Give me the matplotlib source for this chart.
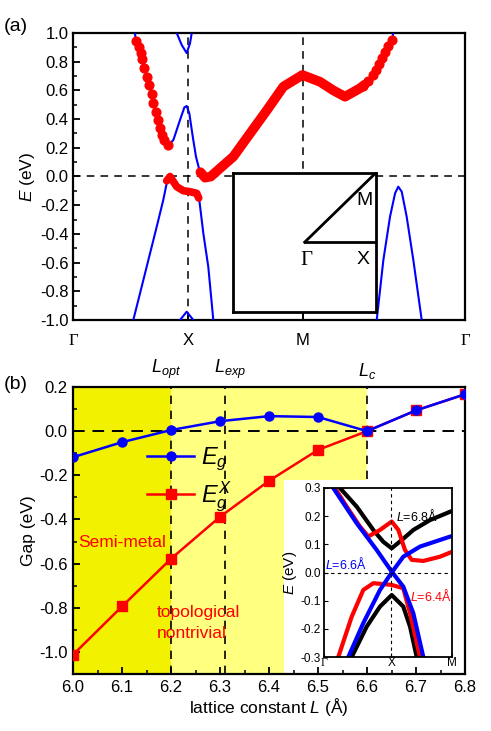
import numpy as np
import matplotlib.pyplot as plt
from matplotlib.patches import Rectangle
from matplotlib.ticker import MultipleLocator, FormatStrFormatter

plt.rcParams['font.family'] = ['Liberation Sans', 'DejaVu Sans']
plt.rcParams['mathtext.fontset'] = 'custom'
plt.rcParams['mathtext.rm'] = 'Liberation Sans'
plt.rcParams['mathtext.it'] = 'Liberation Sans:italic'

# ---------------- panel (a): band structure ----------------
kpath_pos = [0, 1, 2, 2 + np.sqrt(2)]
kpath_lab = ['Γ', 'X', 'M', 'Γ']

# conduction band (blue line)
cb_k = [0.540, 0.546, 0.575, 0.590, 0.599, 0.619, 0.642, 0.662, 0.686, 0.700, 0.721, 0.738,
        0.758, 0.778, 0.793, 0.830, 0.874, 0.932, 0.970, 0.990, 1.013, 1.043, 1.071, 1.097,
        1.121, 1.150, 1.280, 1.396, 1.542, 1.687, 1.832, 1.997, 2.151, 2.267, 2.369, 2.500,
        2.528, 2.572, 2.610, 2.639, 2.665, 2.689, 2.717, 2.746, 2.776, 2.790]
cb_E = [1.000, 0.946, 0.904, 0.863, 0.816, 0.754, 0.696, 0.638, 0.575, 0.514, 0.452, 0.394,
        0.336, 0.289, 0.254, 0.220, 0.254, 0.394, 0.482, 0.491, 0.440, 0.277, 0.138, 0.057,
        0.017, -0.010, 0.057, 0.138, 0.300, 0.460, 0.626, 0.707, 0.660, 0.600, 0.556, 0.615,
        0.631, 0.665, 0.707, 0.742, 0.782, 0.824, 0.870, 0.909, 0.951, 1.000]

# red projected dots (descent from Gamma side and rise toward Gamma)
dots_k = [0.546, 0.575, 0.590, 0.599, 0.619, 0.642, 0.662, 0.686, 0.700, 0.721, 0.738,
          0.758, 0.778, 0.793, 0.830, 2.528, 2.572, 2.610, 2.639, 2.665, 2.689, 2.717,
          2.746, 2.776]
dots_E = [0.946, 0.904, 0.863, 0.816, 0.754, 0.696, 0.638, 0.575, 0.514, 0.452, 0.394,
          0.336, 0.289, 0.254, 0.220, 0.631, 0.665, 0.707, 0.742, 0.782, 0.824, 0.870,
          0.909, 0.951]

# thick red projected band X -> M
thick_k = [1.110, 1.150, 1.200, 1.280, 1.396, 1.542, 1.687, 1.832, 1.997, 2.151, 2.267,
           2.369, 2.500, 2.540]
thick_E = [0.030, -0.008, 0.000, 0.057, 0.138, 0.300, 0.460, 0.626, 0.707, 0.660, 0.600,
           0.556, 0.615, 0.640]

# valence band around X (blue) and its red piece
vb1_k = [0.525, 0.598, 0.671, 0.729, 0.786, 0.816, 0.845, 0.903, 0.961, 1.019, 1.077,
         1.100, 1.135, 1.178, 1.222]
vb1_E = [-1.000, -0.768, -0.535, -0.350, -0.164, -0.047, 0.000, -0.071, -0.099, -0.106,
         -0.117, -0.164, -0.396, -0.628, -1.000]
vred_k = [0.816, 0.845, 0.903, 0.961, 1.019, 1.077, 1.095]
vred_E = [-0.030, 0.000, -0.071, -0.099, -0.106, -0.117, -0.150]

# small bands at X
top_k = [0.903, 0.947, 0.990, 1.019, 1.034]
top_E = [1.000, 0.916, 0.860, 0.928, 1.000]
bot_k = [0.932, 0.990, 1.048]
bot_E = [-1.000, -0.942, -1.000]

# valence band near Gamma (right)
vb2_k = [2.645, 2.703, 2.761, 2.805, 2.833, 2.863, 2.906, 2.964, 3.037]
vb2_E = [-1.000, -0.582, -0.280, -0.117, -0.071, -0.106, -0.280, -0.582, -1.000]

# ---------------- panel (b): gaps vs lattice constant ----------------
L = [6.0, 6.1, 6.2, 6.3, 6.4, 6.5, 6.6, 6.7, 6.8]
Eg = [-0.118, -0.050, 0.005, 0.045, 0.068, 0.064, 0.000, 0.094, 0.167]
EgX = [-1.013, -0.794, -0.578, -0.388, -0.225, -0.085, 0.000, 0.094, 0.167]
L_opt, L_exp, L_c = 6.2, 6.31, 6.6

# inset of (b): bands near X for three L
ins_xlab = ['Γ', 'X', 'M']
ins_xpos = [0, 1, 1.9]
b68c_k = [0.237, 0.485, 0.732, 0.880, 1.005, 1.177, 1.326, 1.573, 1.905]
b68c_E = [0.300, 0.234, 0.151, 0.109, 0.086, 0.120, 0.151, 0.186, 0.219]
b68v_k = [0.411, 0.634, 0.831, 1.005, 1.177, 1.277, 1.376]
b68v_E = [-0.300, -0.192, -0.121, -0.080, -0.121, -0.192, -0.300]
b66a_k = [0.138, 0.485, 0.782, 1.005, 1.177, 1.326, 1.474]
b66a_E = [0.300, 0.175, 0.080, 0.003, -0.050, -0.145, -0.300]
b66b_k = [0.361, 0.583, 0.831, 1.005, 1.177, 1.425, 1.905]
b66b_E = [-0.300, -0.180, -0.062, 0.000, 0.056, 0.092, 0.130]
b64c_k = [0.163, 0.337, 0.534, 0.658, 0.831, 1.005, 1.104, 1.202, 1.301, 1.474, 1.721, 1.905]
b64c_E = [0.300, 0.234, 0.163, 0.128, 0.151, 0.181, 0.151, 0.080, 0.045, 0.041, 0.056, 0.074]
b64v_k = [0.212, 0.411, 0.583, 0.732, 1.005, 1.177, 1.277, 1.425]
b64v_E = [-0.300, -0.157, -0.062, -0.038, -0.044, -0.056, -0.145, -0.300]

BLUE = '#0000ff'
RED = '#ff0000'

fig = plt.figure(figsize=(4.91, 7.31), dpi=100)

# ================= (a) =================
axa = fig.add_axes([0.1487, 0.5622, 0.7984, 0.3927])
axa.plot(cb_k, cb_E, color=BLUE, lw=1.5, zorder=3)
axa.plot(vb1_k, vb1_E, color=BLUE, lw=1.5, zorder=3)
axa.plot(top_k, top_E, color=BLUE, lw=1.5, zorder=3)
axa.plot(bot_k, bot_E, color=BLUE, lw=1.5, zorder=3)
axa.plot(vb2_k, vb2_E, color=BLUE, lw=1.5, zorder=3)
axa.plot(thick_k, thick_E, color=RED, lw=7, solid_capstyle='round', zorder=4)
axa.plot(vred_k, vred_E, color=RED, lw=5.5, solid_capstyle='round', zorder=4)
axa.plot(dots_k, dots_E, 'o', color=RED, ms=6.3, zorder=4)
for x in kpath_pos[1:3]:
    axa.axvline(x, color='k', ls='--', lw=1.1, dashes=(5, 4), zorder=2)
axa.axhline(0, color='k', ls='--', lw=1.1, dashes=(5, 4), zorder=2)
axa.set_xlim(kpath_pos[0], kpath_pos[-1])
axa.set_ylim(-1, 1)
axa.set_xticks(kpath_pos)
axa.set_xticklabels(kpath_lab, fontsize=14)
for t in axa.get_xticklabels():
    if t.get_text() == 'Γ':
        t.set_fontfamily('Liberation Serif')
axa.yaxis.set_major_locator(MultipleLocator(0.2))
axa.yaxis.set_minor_locator(MultipleLocator(0.1))
axa.yaxis.set_major_formatter(FormatStrFormatter('%.1f'))
axa.tick_params(direction='in', width=1.3, length=5, labelsize=12, pad=3)
axa.tick_params(which='minor', direction='in', width=1.1, length=3)
axa.tick_params(axis='x', pad=9)
axa.set_ylabel('$E$ (eV)', fontsize=12.5, labelpad=2)
for s in axa.spines.values():
    s.set_linewidth(1.6)
fig.text(0.008, 0.958, '(a)', fontsize=14)

# Brillouin zone inset
bz = fig.add_axes([233.3 / 491, 1 - 311.7 / 731, 142.7 / 491, 139 / 731])
bz.set_xlim(-1, 1)
bz.set_ylim(-1, 1)
bz.plot([0, 1], [0, 1], color='k', lw=2)
bz.plot([0, 1], [0, 0], color='k', lw=2)
bz.text(0.02, -0.12, 'Γ', family='Liberation Serif', fontsize=15, ha='center', va='top')
bz.text(0.82, -0.12, 'X', fontsize=14, ha='center', va='top')
bz.text(0.84, 0.6, 'M', fontsize=14, ha='center', va='center')
bz.set_xticks([])
bz.set_yticks([])
for s in bz.spines.values():
    s.set_linewidth(2)

# ================= (b) =================
axb = fig.add_axes([0.1487, 0.078, 0.7984, 0.3926])
axb.axvspan(6.0, L_opt, color='#f2f200', lw=0, zorder=0)
axb.axvspan(L_opt, L_c, color='#ffff80', lw=0, zorder=0)
for x in (L_opt, L_exp, L_c):
    axb.axvline(x, color='k', ls='--', lw=1.2, dashes=(5, 4), zorder=1)
axb.axhline(0, color='k', ls='--', lw=1.4, dashes=(6, 4), zorder=1)
axb.add_patch(Rectangle((6.43, -1.12), 0.4, 0.9, color='white', lw=0, zorder=1.5))
axb.plot(L, EgX, '-s', color=RED, lw=1.8, ms=6.5, zorder=3, label='$E_g^X$')
axb.plot(L, Eg, '-o', color=BLUE, lw=1.8, ms=6.5, zorder=4, label='$E_g$')
axb.set_xlim(6.0, 6.8)
axb.set_ylim(-1.1, 0.2)
axb.xaxis.set_major_locator(MultipleLocator(0.1))
axb.xaxis.set_minor_locator(MultipleLocator(0.05))
axb.xaxis.set_major_formatter(FormatStrFormatter('%.1f'))
axb.yaxis.set_major_locator(MultipleLocator(0.2))
axb.yaxis.set_minor_locator(MultipleLocator(0.1))
axb.yaxis.set_major_formatter(FormatStrFormatter('%.1f'))
axb.tick_params(direction='in', width=1.3, length=5, labelsize=12, pad=4)
axb.tick_params(which='minor', direction='in', width=1.1, length=3)
axb.set_xlabel('lattice constant $L$ (Å)', fontsize=12.5, labelpad=1)
axb.set_ylabel('Gap (eV)', fontsize=12.5, labelpad=2)
for s in axb.spines.values():
    s.set_linewidth(1.6)
h, lab = axb.get_legend_handles_labels()
axb.legend(h[::-1], lab[::-1], loc='upper left', bbox_to_anchor=(0.135, 0.87), frameon=False,
           fontsize=17, handlelength=2.0, labelspacing=0.3, handletextpad=0.3)
for x, s in ((L_opt - 0.01, '$L_{opt}$'), (L_exp + 0.01, '$L_{exp}$'), (L_c, '$L_c$')):
    axb.text(x, 1.022, s, transform=axb.get_xaxis_transform(), ha='center',
             va='bottom', fontsize=13)
axb.text(6.01, -0.505, 'Semi-metal', color=RED, fontsize=12.5, va='center')
axb.text(6.17, -0.822, 'topological', color=RED, fontsize=12.5, va='center')
axb.text(6.17, -0.918, 'nontrivial', color=RED, fontsize=12.5, va='center')
fig.text(0.008, 0.468, '(b)', fontsize=14)

# inset of (b)
ins = fig.add_axes([324 / 491, 1 - 657 / 731, 128 / 491, 169 / 731])
ins.plot(b68c_k, b68c_E, color='k', lw=3)
ins.plot(b68v_k, b68v_E, color='k', lw=3)
ins.plot(b64c_k, b64c_E, color=RED, lw=3)
ins.plot(b64v_k, b64v_E, color=RED, lw=3)
ins.plot(b66a_k, b66a_E, color=BLUE, lw=3)
ins.plot(b66b_k, b66b_E, color=BLUE, lw=3)
ins.axvline(1, color='k', ls='--', lw=0.8, dashes=(3, 3))
ins.axhline(0, color='k', ls='--', lw=0.8, dashes=(3, 3))
ins.set_xlim(0, 1.9)
ins.set_ylim(-0.3, 0.3)
ins.set_xticks(ins_xpos)
ins.set_xticklabels(ins_xlab, fontsize=11)
for t in ins.get_xticklabels():
    if t.get_text() == 'Γ':
        t.set_fontfamily('Liberation Serif')
ins.yaxis.set_major_locator(MultipleLocator(0.1))
ins.yaxis.set_major_formatter(FormatStrFormatter('%.1f'))
ins.tick_params(direction='in', labelsize=8.5, length=3, pad=2)
ins.tick_params(axis='x', pad=0)
ins.set_ylabel('$E$ (eV)', fontsize=11, labelpad=1)
ins.text(1.07, 0.2, '$L$=6.8Å', fontsize=9, va='center')
ins.text(0.02, 0.03, '$L$=6.6Å', fontsize=9, color=BLUE, va='center')
ins.text(1.27, -0.085, '$L$=6.4Å', fontsize=9, color=RED, va='center')
for s in ins.spines.values():
    s.set_linewidth(1.3)

fig.savefig('out.png', dpi=100)
